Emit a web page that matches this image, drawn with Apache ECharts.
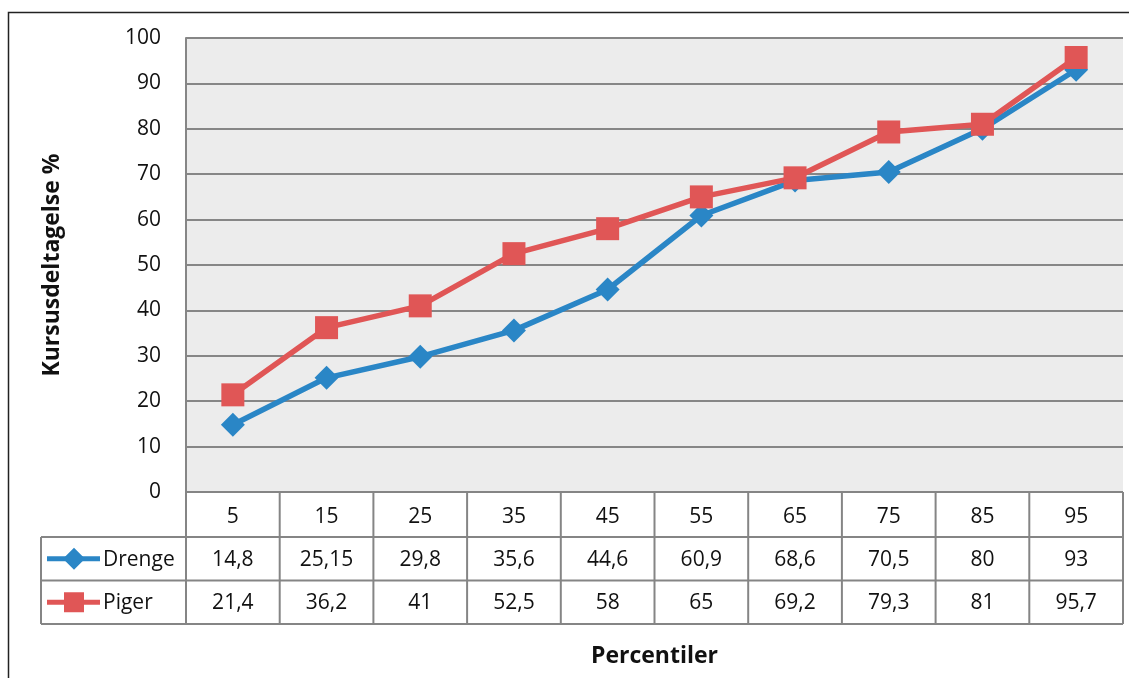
<!DOCTYPE html>
<html>
<head>
<meta charset="utf-8">
<script src="https://cdn.jsdelivr.net/npm/echarts@6/dist/echarts.min.js"></script>
<style>
  html, body { margin: 0; padding: 0; background: #fff; }
  #chart { width: 1129px; height: 678px; }
</style>
</head>
<body>
<div id="chart"></div>
<script>
// Percentiles and course participation (%) for boys and girls
const categories = ['5', '15', '25', '35', '45', '55', '65', '75', '85', '95'];
const drenge = [14.8, 25.15, 29.8, 35.6, 44.6, 60.9, 68.6, 70.5, 80, 93];
const piger = [21.4, 36.2, 41, 52.5, 58, 65, 69.2, 79.3, 81, 95.7];
const seriesNames = ['Drenge', 'Piger'];
const yTitle = 'Kursusdeltagelse %';
const xTitle = 'Percentiler';

const FONT = 'Open Sans';
const FS = 21;
const BLUE = '#2a86c6';
const RED = '#e05656';
const GRID = '#868686';
const TEXT = '#111';

const fmt = v => String(v).replace('.', ',');

const chart = echarts.init(document.getElementById('chart'), null, { renderer: 'canvas' });

chart.setOption({
  animation: false,
  backgroundColor: '#fff',
  textStyle: { fontFamily: FONT },
  grid: {
    left: 186, right: 6, top: 38, bottom: 186,
    show: true, backgroundColor: '#ececec', borderWidth: 0
  },
  xAxis: {
    type: 'category',
    data: categories,
    boundaryGap: true,
    name: xTitle,
    nameLocation: 'middle',
    nameGap: 153,
    nameTextStyle: { fontFamily: FONT, fontSize: 23, fontWeight: 'bold', color: TEXT },
    axisLine: { show: false },
    axisTick: { show: false },
    axisLabel: { margin: 15, fontFamily: FONT, fontSize: FS, color: TEXT }
  },
  yAxis: {
    type: 'value',
    min: 0, max: 100, interval: 10,
    name: yTitle,
    nameLocation: 'middle',
    nameRotate: 90,
    nameGap: 122,
    nameTextStyle: { fontFamily: FONT, fontSize: 23, fontWeight: 'bold', color: TEXT },
    axisLine: { show: true, lineStyle: { color: GRID, width: 2 } },
    axisTick: { show: false },
    axisLabel: { margin: 25, fontFamily: FONT, fontSize: FS, color: TEXT },
    splitLine: { show: true, lineStyle: { color: GRID, width: 2 } }
  },
  series: [
    {
      name: seriesNames[0], type: 'line', data: drenge,
      symbol: 'diamond', symbolSize: 24,
      lineStyle: { color: BLUE, width: 5.5 },
      itemStyle: { color: BLUE }
    },
    {
      name: seriesNames[1], type: 'line', data: piger,
      symbol: 'rect', symbolSize: 23,
      lineStyle: { color: RED, width: 5.5 },
      itemStyle: { color: RED }
    }
  ]
});

// Data table under the plot, aligned to the category bands
(function drawTable() {
  const c0 = chart.convertToPixel({ xAxisIndex: 0 }, 0);
  const c1 = chart.convertToPixel({ xAxisIndex: 0 }, 1);
  const band = c1 - c0;
  const xStart = c0 - band / 2;
  const xEnd = xStart + band * categories.length;
  const yTop = chart.convertToPixel({ yAxisIndex: 0 }, 0);
  const rowH = 43.5;
  const headerH = 45;
  const legendLeft = 41;
  const r1 = yTop + headerH, r2 = r1 + rowH, r3 = r2 + rowH;
  const lineStyle = { stroke: '#858585', lineWidth: 2 };
  const els = [];
  const hline = (x1, x2, y) => els.push({ type: 'line', shape: { x1, y1: y, x2, y2: y }, style: lineStyle, z: 10 });
  const vline = (x, y1, y2) => els.push({ type: 'line', shape: { x1: x, y1, x2: x, y2 }, style: lineStyle, z: 10 });

  hline(xStart, xEnd, yTop);
  hline(legendLeft, xEnd, r1);
  hline(legendLeft, xEnd, r2);
  hline(legendLeft, xEnd, r3);
  vline(legendLeft, r1, r3);
  for (let i = 0; i <= categories.length; i++) vline(xStart + band * i, yTop, r3);

  const rows = [[drenge, r1], [piger, r2]];
  rows.forEach(([vals, yRow]) => {
    vals.forEach((v, i) => {
      els.push({
        type: 'text', z: 11,
        style: {
          text: fmt(v), x: xStart + band * (i + 0.5), y: yRow + rowH / 2 + 1,
          align: 'center', verticalAlign: 'middle',
          font: FS + 'px "' + FONT + '"', fill: TEXT
        }
      });
    });
  });

  // Legend keys inside the table
  const keys = [
    { name: seriesNames[0], color: BLUE, y: r1 + rowH / 2, sym: 'diamond' },
    { name: seriesNames[1], color: RED, y: r2 + rowH / 2, sym: 'rect' }
  ];
  keys.forEach(k => {
    els.push({ type: 'line', z: 11, shape: { x1: 47, y1: k.y, x2: 100, y2: k.y }, style: { stroke: k.color, lineWidth: 5 } });
    if (k.sym === 'diamond') {
      els.push({ type: 'polygon', z: 12, shape: { points: [[74, k.y - 11], [85, k.y], [74, k.y + 11], [63, k.y]] }, style: { fill: k.color } });
    } else {
      els.push({ type: 'rect', z: 12, shape: { x: 64, y: k.y - 10, width: 20, height: 20 }, style: { fill: k.color } });
    }
    els.push({
      type: 'text', z: 11,
      style: { text: k.name, x: 103, y: k.y + 1, align: 'left', verticalAlign: 'middle', font: FS + 'px "' + FONT + '"', fill: TEXT }
    });
  });

  // Outer frame
  els.push({ type: 'rect', z: 1, shape: { x: 8.5, y: 12.5, width: 1140, height: 700 }, style: { fill: null, stroke: '#222', lineWidth: 1.5 } });

  chart.setOption({ graphic: { elements: els } });
})();
</script>
</body>
</html>
